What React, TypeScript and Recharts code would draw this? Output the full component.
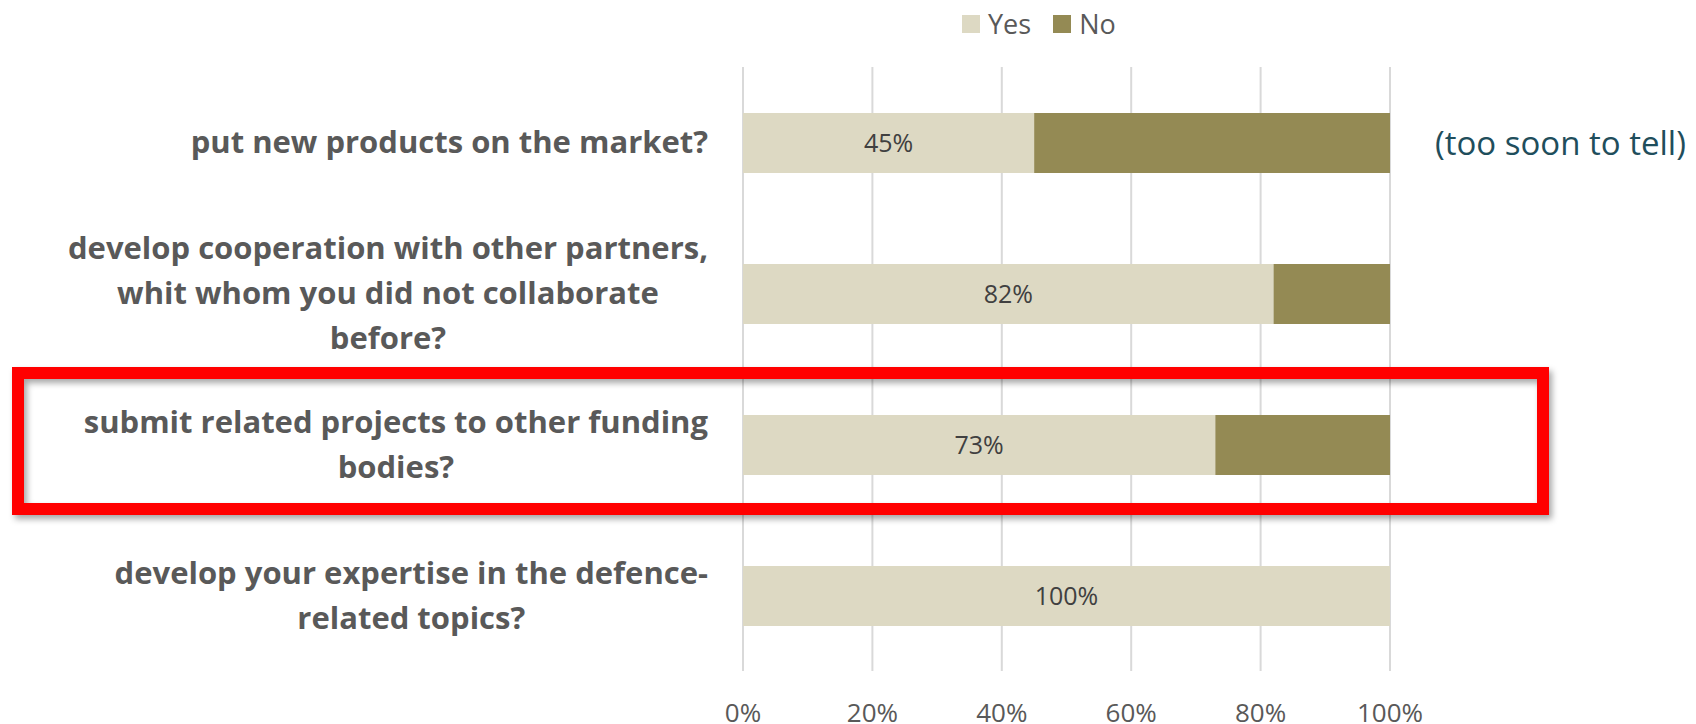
import { Bar, BarChart, CartesianGrid, LabelList, XAxis, YAxis } from 'recharts';

const CATEGORIES = [
  'put new products on the market?',
  'develop cooperation with other partners,\nwhit whom you did not collaborate\nbefore?',
  'submit related projects to other funding\nbodies?',
  'develop your expertise in the defence-\nrelated topics?',
];
const YES = [45, 82, 73, 100];
const NO = [55, 18, 27, 0];
const NOTES = ['(too soon to tell)', '', '', ''];
const X_TICKS = [0, 20, 40, 60, 80, 100];
const SERIES = [
  { key: 'yes', name: 'Yes', color: '#DDD9C3' },
  { key: 'no', name: 'No', color: '#948A54' },
];

const data = CATEGORIES.map((name, i) => ({ name, yes: YES[i], no: NO[i], note: NOTES[i] }));

const TEXT = '#595959';
const LABEL_RIGHT = 708;
const LINE_GAP = 45;
const CAT_FONT_SIZE = 31;

let ctx: CanvasRenderingContext2D | null = null;
function measure(text: string): number {
  if (!ctx) ctx = document.createElement('canvas').getContext('2d');
  if (!ctx) return text.length * 17;
  ctx.font = `bold ${CAT_FONT_SIZE}px "Open Sans"`;
  return ctx.measureText(text).width;
}

function CategoryTick({ y, payload }: any) {
  const lines = String(payload.value).split('\n');
  const blockW = Math.max(...lines.map(measure));
  const cx = LABEL_RIGHT - blockW / 2;
  const first = -((lines.length - 1) / 2) * LINE_GAP;
  return (
    <text
      x={cx}
      y={y}
      textAnchor="middle"
      fill={TEXT}
      fontFamily="'Open Sans', sans-serif"
      fontSize={CAT_FONT_SIZE}
      fontWeight={700}
    >
      {lines.map((line, i) => (
        <tspan key={i} x={cx} y={y + first + i * LINE_GAP} dy="0.35em">
          {line}
        </tspan>
      ))}
    </text>
  );
}

function PercentTick({ x, y, payload }: any) {
  return (
    <text x={x} y={y + 43} textAnchor="middle" fill={TEXT} fontFamily="'Open Sans', sans-serif" fontSize={26}>
      {`${payload.value}%`}
    </text>
  );
}

function NoteLabel({ x, y, width, height, index }: any) {
  const note = NOTES[index];
  if (!note) return null;
  return (
    <text
      x={x + width + 45}
      y={y + height / 2}
      dy="0.35em"
      fill="#1F4E5C"
      fontFamily="'Open Sans', sans-serif"
      fontSize={33}
    >
      {note}
    </text>
  );
}

export default function App() {
  return (
    <div style={{ position: 'absolute', left: 0, top: 0, width: 1696, height: 724, background: '#fff' }}>
      <BarChart
        width={1696}
        height={724}
        data={data}
        layout="vertical"
        barSize={60}
        margin={{ top: 67, right: 306, bottom: 0, left: 0 }}
      >
        <CartesianGrid horizontal={false} stroke="#D9D9D9" strokeWidth={2} />
        <XAxis
          type="number"
          domain={[0, 100]}
          ticks={X_TICKS}
          axisLine={false}
          tickLine={false}
          height={53}
          tick={<PercentTick />}
        />
        <YAxis
          type="category"
          dataKey="name"
          width={743}
          axisLine={false}
          tickLine={false}
          tick={<CategoryTick />}
        />
        <Bar dataKey="yes" stackId="a" fill={SERIES[0].color} isAnimationActive={false}>
          <LabelList
            dataKey="yes"
            position="center"
            formatter={(v: number) => `${v}%`}
            fill="#404040"
            fontSize={25}
            fontFamily="'Open Sans', sans-serif"
          />
        </Bar>
        <Bar dataKey="no" stackId="a" fill={SERIES[1].color} isAnimationActive={false}>
          <LabelList dataKey="no" content={<NoteLabel />} />
        </Bar>
      </BarChart>

      {/* legend */}
      <div
        style={{
          position: 'absolute',
          left: 962,
          top: 6,
          display: 'flex',
          alignItems: 'center',
          fontFamily: "'Open Sans', sans-serif",
          fontSize: 27,
          color: TEXT,
          lineHeight: '36px',
        }}
      >
        {SERIES.map((s) => (
          <div key={s.key} style={{ display: 'flex', alignItems: 'center', marginRight: 22 }}>
            <span style={{ width: 18, height: 18, background: s.color, marginRight: 8 }} />
            <span>{s.name}</span>
          </div>
        ))}
      </div>

      {/* red highlight box */}
      <svg width={1696} height={724} style={{ position: 'absolute', left: 0, top: 0, pointerEvents: 'none' }}>
        <defs>
          <filter id="shadow" x="-5%" y="-20%" width="110%" height="140%">
            <feDropShadow dx={3} dy={4} stdDeviation={3} floodColor="#000" floodOpacity={0.35} />
          </filter>
        </defs>
        <rect x={18} y={373} width={1525} height={136} fill="none" stroke="#FF0000" strokeWidth={12} filter="url(#shadow)" />
      </svg>
    </div>
  );
}
